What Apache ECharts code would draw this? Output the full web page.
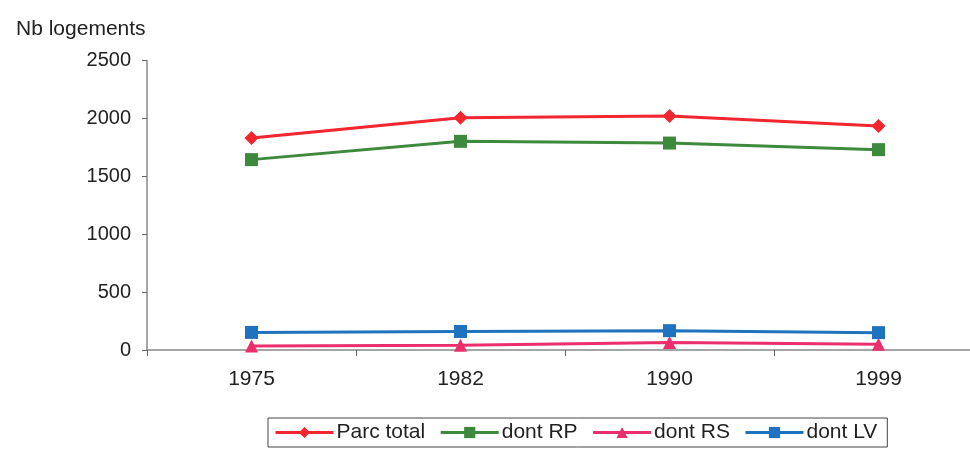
<!DOCTYPE html>
<html>
<head>
<meta charset="utf-8">
<script src="https://cdn.jsdelivr.net/npm/echarts@6/dist/echarts.min.js"></script>
<style>
  html, body { margin: 0; padding: 0; background: #fff; overflow: hidden; }
  #chart { width: 990px; height: 450px; }
</style>
</head>
<body>
<div id="chart"></div>
<script>
// Housing stock by census year
const years = ['1975', '1982', '1990', '1999'];
const parcTotal = [1830, 2005, 2020, 1934];
const dontRP = [1644, 1802, 1787, 1730];
const dontRS = [35, 40, 65, 50];
const dontLV = [152, 160, 167, 150];
const yTicks = { min: 0, max: 2500, interval: 500 };

const font = '"Liberation Sans", Arial, sans-serif';
// The plot area runs past the right edge of the visible page, so the
// canvas is a little wider than the window.
const chart = echarts.init(document.getElementById('chart'), null, { renderer: 'canvas' });

function lineSeries(name, data, color, symbol, size) {
  return {
    name: name,
    type: 'line',
    data: data,
    symbol: symbol,
    symbolSize: size,
    lineStyle: { color: color, width: 3 },
    itemStyle: { color: color },
    animation: false
  };
}

chart.setOption({
  animation: false,
  textStyle: { fontFamily: font },
  grid: { left: 147, top: 60.5, width: 836, height: 289.5 },
  title: {
    text: 'Nb logements',
    left: 11, top: 14,
    textStyle: { fontFamily: font, fontSize: 21, fontWeight: 'normal', color: '#222' }
  },
  legend: {
    left: 268, top: 418,
    padding: [4, 10, 4, 6],
    borderColor: '#444', borderWidth: 1,
    itemWidth: 58, itemHeight: 14, itemGap: 14,
    lineStyle: { width: 3 },
    textStyle: { fontFamily: font, fontSize: 21, color: '#222', padding: [0, 0, 0, -2] },
    data: ['Parc total', 'dont RP', 'dont RS', 'dont LV']
  },
  xAxis: {
    type: 'category',
    data: years,
    boundaryGap: true,
    axisLine: { lineStyle: { color: '#888', width: 1.5 } },
    axisTick: { show: true, length: 6, inside: false, lineStyle: { color: '#666' } },
    axisLabel: { fontFamily: font, fontSize: 21, color: '#222', margin: 19 }
  },
  yAxis: {
    type: 'value',
    min: yTicks.min, max: yTicks.max, interval: yTicks.interval,
    axisLine: { show: true, lineStyle: { color: '#888', width: 1.5 } },
    axisTick: { show: true, length: 5, lineStyle: { color: '#666' } },
    splitLine: { show: false },
    axisLabel: {
      fontFamily: font, fontSize: 20, color: '#222', margin: 16,
      formatter: function (v) { return String(v); }
    }
  },
  series: [
    lineSeries('Parc total', parcTotal, '#f2262e', 'diamond', 14),
    lineSeries('dont RP', dontRP, '#3d8a3c', 'rect', 13),
    lineSeries('dont RS', dontRS, '#ea2f6c', 'triangle', 13),
    lineSeries('dont LV', dontLV, '#1f72bd', 'rect', 13)
  ]
});
</script>
</body>
</html>
